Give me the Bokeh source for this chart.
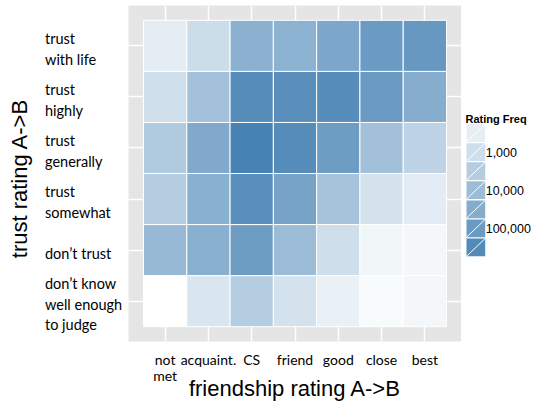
import math
from bokeh.plotting import figure
from bokeh.models import Range1d, FixedTicker, LogColorMapper, ColumnDataSource
from bokeh.layouts import row
from bokeh.embed import file_html
from bokeh.resources import INLINE
from bokeh.core.properties import value

# ---------------- data ----------------
friendship = ["not\nmet", "acquaint.", "CS", "friend", "good", "close", "best"]
# trust levels, bottom -> top
trust = ["don\u2019t know\nwell enough\nto judge", "don\u2019t trust", "trust\nsomewhat",
         "trust\ngenerally", "trust\nhighly", "trust\nwith life"]

# rating frequency for each trust level, across friendship levels
freq_dont_know = [100, 590, 3300, 780, 280, 140, 175]
freq_dont_trust = [12300, 23500, 87000, 10700, 980, 190, 180]
freq_somewhat = [3300, 23500, 220000, 55000, 6400, 740, 370]
freq_generally = [4000, 37500, 560000, 280000, 87000, 7700, 2100]
freq_highly = [900, 7300, 280000, 220000, 255000, 105000, 28000]
freq_with_life = [355, 1070, 21400, 21000, 43600, 100000, 126000]

legend_breaks = [316, 1000, 3162, 10000, 31623, 100000, 316228]
legend_labels = ["", "1,000", "", "10,000", "", "100,000", ""]

rows = [freq_dont_know, freq_dont_trust, freq_somewhat, freq_generally, freq_highly, freq_with_life]

# ---------------- colour scale (white -> steelblue, log) ----------------
def hex2rgb(h):
    h = h.lstrip("#")
    return [int(h[i:i + 2], 16) for i in (0, 2, 4)]

lo_c, hi_c = hex2rgb("#FFFFFF"), hex2rgb("#4682B4")
N = 256
palette = ["#%02x%02x%02x" % tuple(int(round(a + (b - a) * i / (N - 1))) for a, b in zip(lo_c, hi_c))
           for i in range(N)]
mapper = LogColorMapper(palette=palette, low=100, high=560000)

# ---------------- geometry ----------------
H = 403
LEFT_W, MAIN_W, LEG_W = 128, 333, 73
TOP, BOTTOM = 5, 58
fh = H - TOP - BOTTOM
x0, x1 = 0.1535, 7.8465
y0, y1 = 0.2097, 6.7903
pxy = fh / (y1 - y0)

def dy(py):  # page pixel (from top) -> data y
    return y1 - (py - TOP) / pxy

yr = Range1d(y0, y1)

# ---------------- main panel ----------------
xs, ys, fs = [], [], []
for j, r in enumerate(rows):
    for i, v in enumerate(r):
        xs.append(i + 1)
        ys.append(j + 1)
        fs.append(v)
src = ColumnDataSource(dict(x=xs, y=ys, freq=fs))

p = figure(width=MAIN_W, height=H, x_range=Range1d(x0, x1), y_range=yr,
           output_backend="svg", toolbar_location=None,
           min_border_left=0, min_border_right=0, min_border_top=TOP, min_border_bottom=BOTTOM)
p.background_fill_color = "#E5E5E5"
p.border_fill_color = "white"
p.outline_line_color = None

p.rect(x="x", y="y", width=1, height=1, source=src,
       fill_color={"field": "freq", "transform": mapper},
       line_color="white", line_width=1)

p.xaxis.ticker = FixedTicker(ticks=list(range(1, 8)))
p.xaxis.major_label_overrides = {i + 1: lab for i, lab in enumerate(friendship)}
p.xaxis.major_tick_line_color = None
p.xaxis.minor_tick_line_color = None
p.xaxis.axis_line_color = None
p.xaxis.major_label_standoff = 3
p.xaxis.major_label_text_font = "Lato"
p.xaxis.major_label_text_font_size = "14px"
p.xaxis.major_label_text_color = "black"
p.xaxis.major_label_text_line_height = 0.95
p.xaxis.axis_label = "friendship rating A->B"
p.xaxis.axis_label_text_font = "Liberation Sans"
p.xaxis.axis_label_text_font_size = "22px"
p.xaxis.axis_label_text_font_style = "normal"
p.xaxis.axis_label_text_color = "black"
p.xaxis.axis_label_standoff = -11
p.yaxis.visible = False

p.xgrid.ticker = FixedTicker(ticks=list(range(1, 8)))
p.ygrid.ticker = FixedTicker(ticks=list(range(1, 7)))
for g in (p.xgrid, p.ygrid):
    g.grid_line_color = "white"
    g.grid_line_width = 1.5

# ---------------- left panel: y tick labels + title ----------------
lf = figure(width=LEFT_W, height=H, x_range=Range1d(0, LEFT_W), y_range=yr,
            output_backend="svg", toolbar_location=None,
            min_border_left=0, min_border_right=0, min_border_top=TOP, min_border_bottom=BOTTOM)
lf.axis.visible = False
lf.grid.visible = False
lf.outline_line_color = None
lf.background_fill_color = "white"
lf.border_fill_color = "white"
shift = 3 / pxy
lf.text(x=[44.5] * len(trust), y=[j + 1 - shift for j in range(len(trust))], text=trust,
        text_align="left", text_baseline="middle", text_font=value("Lato"),
        text_font_size="14.5px", text_color="black", text_line_height=1.22)
lf.text(x=[19], y=[dy(180)], text=["trust rating A->B"], angle=math.pi / 2,
        text_align="center", text_baseline="middle", text_font=value("Liberation Sans"),
        text_font_size="22px", text_color="black")

# ---------------- legend panel ----------------
leg = figure(width=LEG_W, height=H, x_range=Range1d(0, LEG_W), y_range=Range1d(H - BOTTOM, TOP),
             output_backend="svg", toolbar_location=None,
             min_border_left=0, min_border_right=0, min_border_top=TOP, min_border_bottom=BOTTOM)
leg.axis.visible = False
leg.grid.visible = False
leg.outline_line_color = None
leg.background_fill_color = "white"
leg.border_fill_color = "white"

kx0, kw, kh, ktop, kstep = 5, 18.7, 18, 125, 19.3
kys = [ktop + kstep * i for i in range(len(legend_breaks))]
lsrc = ColumnDataSource(dict(
    x=[kx0 + kw / 2] * len(kys), y=[k + kh / 2 for k in kys], freq=legend_breaks,
    xa=[kx0] * len(kys), ya=[k + kh for k in kys], xb=[kx0 + kw] * len(kys), yb=kys,
    tx=[kx0 + kw + 0.5] * len(kys), lab=legend_labels))
leg.rect(x="x", y="y", width=kw, height=kh, source=lsrc,
         fill_color={"field": "freq", "transform": mapper}, line_color=None)
leg.segment(x0="xa", y0="ya", x1="xb", y1="yb", source=lsrc, line_color="white", line_width=1)
leg.text(x="tx", y="y", text="lab", source=lsrc, text_baseline="middle", text_align="left",
         text_font=value("Liberation Sans"), text_font_size="12.5px", text_color="black")
leg.text(x=[4], y=[119.5], text=["Rating Freq"], text_baseline="alphabetic", text_align="left",
         text_font=value("Liberation Sans"), text_font_size="11px", text_font_style="bold",
         text_color="black")

layout = row(lf, p, leg)
open("out.html", "w").write(file_html(layout, INLINE))
